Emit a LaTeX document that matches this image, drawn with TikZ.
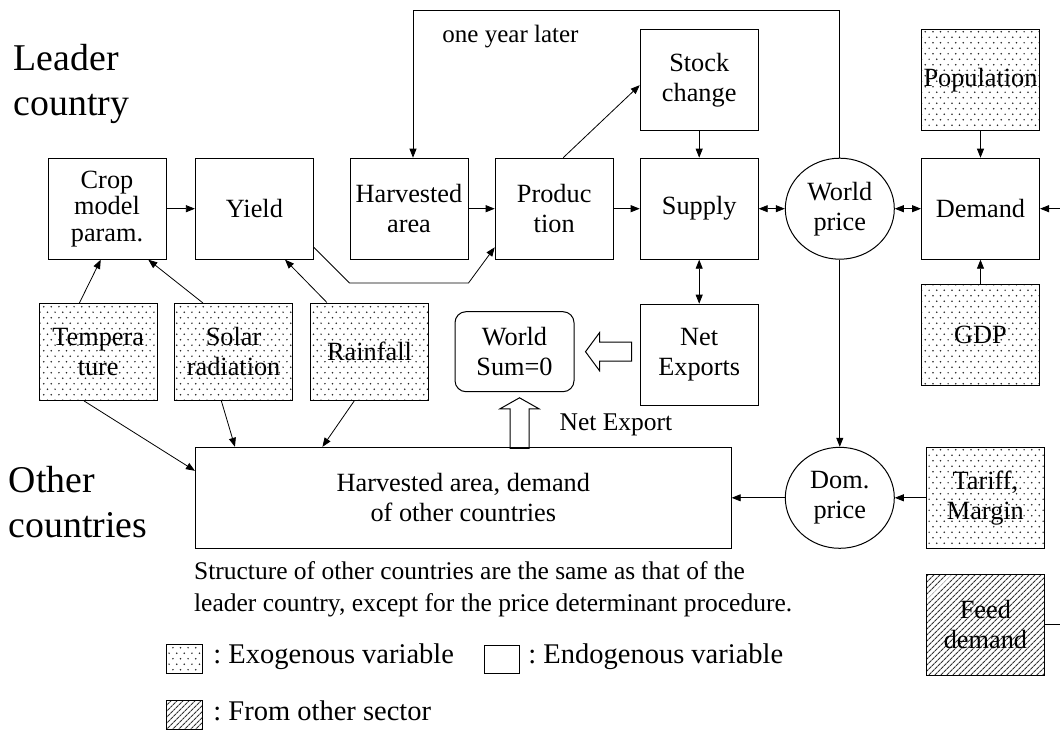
\documentclass[tikz,border=0pt]{standalone}
\usepackage{fontspec}
\setmainfont{Liberation Serif}
\usetikzlibrary{arrows.meta}
\usetikzlibrary{shapes.geometric}
\usetikzlibrary{patterns,patterns.meta}
\usetikzlibrary{calc}
\frenchspacing

\pgfdeclarepatternformonly{exodots}{\pgfpoint{-1pt}{-1pt}}{\pgfpoint{8.6pt}{12pt}}{\pgfpoint{7.6pt}{11pt}}{
  \pgfpathcircle{\pgfpoint{1.9pt}{2.75pt}}{0.85pt}
  \pgfpathcircle{\pgfpoint{5.7pt}{8.25pt}}{0.85pt}
  \pgfusepath{fill}
}

\newcommand\boxfont{\fontsize{26.3}{30}\selectfont}
\newcommand\cropfont{\fontsize{26.3}{26.5}\selectfont}
\newcommand\titlefont{\fontsize{37.8}{45}\selectfont}
\newcommand\notefont{\fontsize{25.5}{32}\selectfont}
\newcommand\keyfont{\fontsize{28.5}{34}\selectfont}

\tikzset{
  box/.style={draw, line width=1pt, minimum width=118pt, minimum height=101pt, inner sep=0pt, align=center, font=\boxfont},
  exo/.style={box, pattern=exodots, pattern color=black!85},
  sector/.style={box, pattern={Lines[angle=45,distance=4pt,line width=1.2pt]}, pattern color=black!80},
  price/.style={draw, ellipse, line width=1pt, minimum width=109pt, minimum height=101pt, inner sep=0pt, align=center, font=\boxfont},
  txt/.style={inner sep=0pt, font=\boxfont},
  title/.style={inner sep=0pt, align=left, font=\titlefont},
  keytxt/.style={inner sep=0pt, anchor=base west, font=\keyfont},
  hollow/.style={line width=1pt, line join=miter},
}

\begin{document}
\begin{tikzpicture}[x=1pt, y=-1pt, >={Triangle[length=9pt,width=7pt]}, every path/.style={line width=0.8pt}]
    \useasboundingbox (0,0) rectangle (1060,733);

    \node[title, anchor=west] (leader) at (13.5,84.2) {Leader\\country};
    \node[title, anchor=west] (others) at (8.5,501.7) {Other\\countries};

    \node[box, font=\cropfont] (crop) at (107,208.7) {Crop\\model\\param.};
    \node[box] (yield) at (254.4,208.7) {Yield};
    \node[box] (harv) at (409,208.7) {Harvested\\area};
    \node[box] (prod) at (554.2,208.7) {Produc\\tion};
    \node[box] (supply) at (699.2,208.7) {Supply};
    \node[box] (stock) at (699.2,80) {Stock\\change};
    \node[price] (wprice) at (839.8,208.7) {World\\price};
    \node[box] (demand) at (980.5,208.7) {Demand};
    \node[exo] (pop) at (980.5,80) {Population};
    \node[exo] (gdp) at (980.5,335) {GDP};

    \node[exo, minimum height=97pt] (temp) at (98.2,352) {Tempera\\ture};
    \node[exo, minimum height=97pt] (solar) at (233.6,352) {Solar\\radiation};
    \node[exo, minimum height=97pt] (rain) at (369.5,351.5) {Rainfall};
    \node[box, rounded corners=11pt, minimum width=119pt, minimum height=80pt] (worldsum) at (514.5,351.7) {World\\Sum=0};
    \node[box] (netexp) at (699.2,354.7) {Net\\Exports};

    \node[box, minimum width=535.7pt] (other) at (463.3,497.8) {Harvested area, demand\\of other countries};
    \node[price] (dprice) at (839.8,497.8) {Dom.\\price};
    \node[exo] (tariff) at (985.4,497.8) {Tariff,\\Margin};
    \node[sector] (feed) at (985.4,624.8) {Feed\\demand};

    \node[txt, font=\fontsize{25}{30}\selectfont, anchor=base] (lagtext) at (510.5,43) {one year later};
    \node[txt, font=\fontsize{25.5}{30}\selectfont, anchor=base] (nettext) at (615.9,430.9) {Net Export};
    \node[txt, font=\notefont, anchor=west, align=left] (note) at (193.7,588.8)
        {Structure of other countries are the same as that of the\\leader country, except for the price determinant procedure.};

    \coordinate (lag) at (413,10.8);
    \coordinate (demandin) at (1060,208.7);
    \coordinate (feedout) at (1060,624.8);

    \draw[->] (crop) to (yield);
    \draw[->] (harv) to (prod);
    \draw[->] (prod) to (supply);
    \draw[->] (prod.80) to (stock.185);
    \draw[->] (stock) to (supply);
    \draw[<->] (supply) to (netexp);
    \draw[<->] (supply) to (wprice);
    \draw[<->] (wprice) to (demand);
    \draw[->] (pop) to (demand);
    \draw[->] (gdp) to (demand);
    \draw[->] (demandin) to (demand);
    \draw[->] (yield.-33) -- (harv.south west |- 0,283) -- (harv.south east |- 0,283) -- (prod.213);
    \draw[->] (wprice.north) |- (lag) -- (lag |- harv.north);

    \draw[->] (temp.111) to (crop.263);
    \draw[->] (solar.122) to (crop.-51);
    \draw[->] (rain.131) to (yield.-59);
    \draw[->] (temp.254) to ($(other.north west)+(0,24)$);
    \draw[->] (solar.256) to ($(other.north west)+(40,0)$);
    \draw[->] (rain.253) to ($(other.north west)+(127.5,0)$);

    \draw[->] (wprice) to (dprice);
    \draw[->] (tariff) to (dprice);
    \draw[->] (dprice) to (other);
    \draw (feed) to (feedout);

    \draw[hollow] ($(worldsum.east)+(11,0)$) -- ++(14,-19) -- ++(0,9.5) -- ++(32,0) -- ++(0,19) -- ++(-32,0) -- ++(0,9.5) -- cycle;
    \draw[hollow] ($(worldsum.south)+(5,5.6)$) -- ++(19.5,11) -- ++(-10,0) -- ++(0,39.5) -- ++(-19,0) -- ++(0,-39.5) -- ++(-10,0) -- cycle;

    \node[exo, minimum width=35.6pt, minimum height=28.3pt] (keyexo) at (184.5,659) {};
    \node[keytxt] (keyexotext) at (213,663) {: Exogenous variable};
    \node[box, minimum width=35pt, minimum height=28.3pt] (keyendo) at (501.8,659.2) {};
    \node[keytxt] (keyendotext) at (528,663) {: Endogenous variable};
    \node[sector, minimum width=35.6pt, minimum height=28.6pt] (keysec) at (184.5,715) {};
    \node[keytxt] (keysectext) at (213,720) {: From other sector};
\end{tikzpicture}
\end{document}
